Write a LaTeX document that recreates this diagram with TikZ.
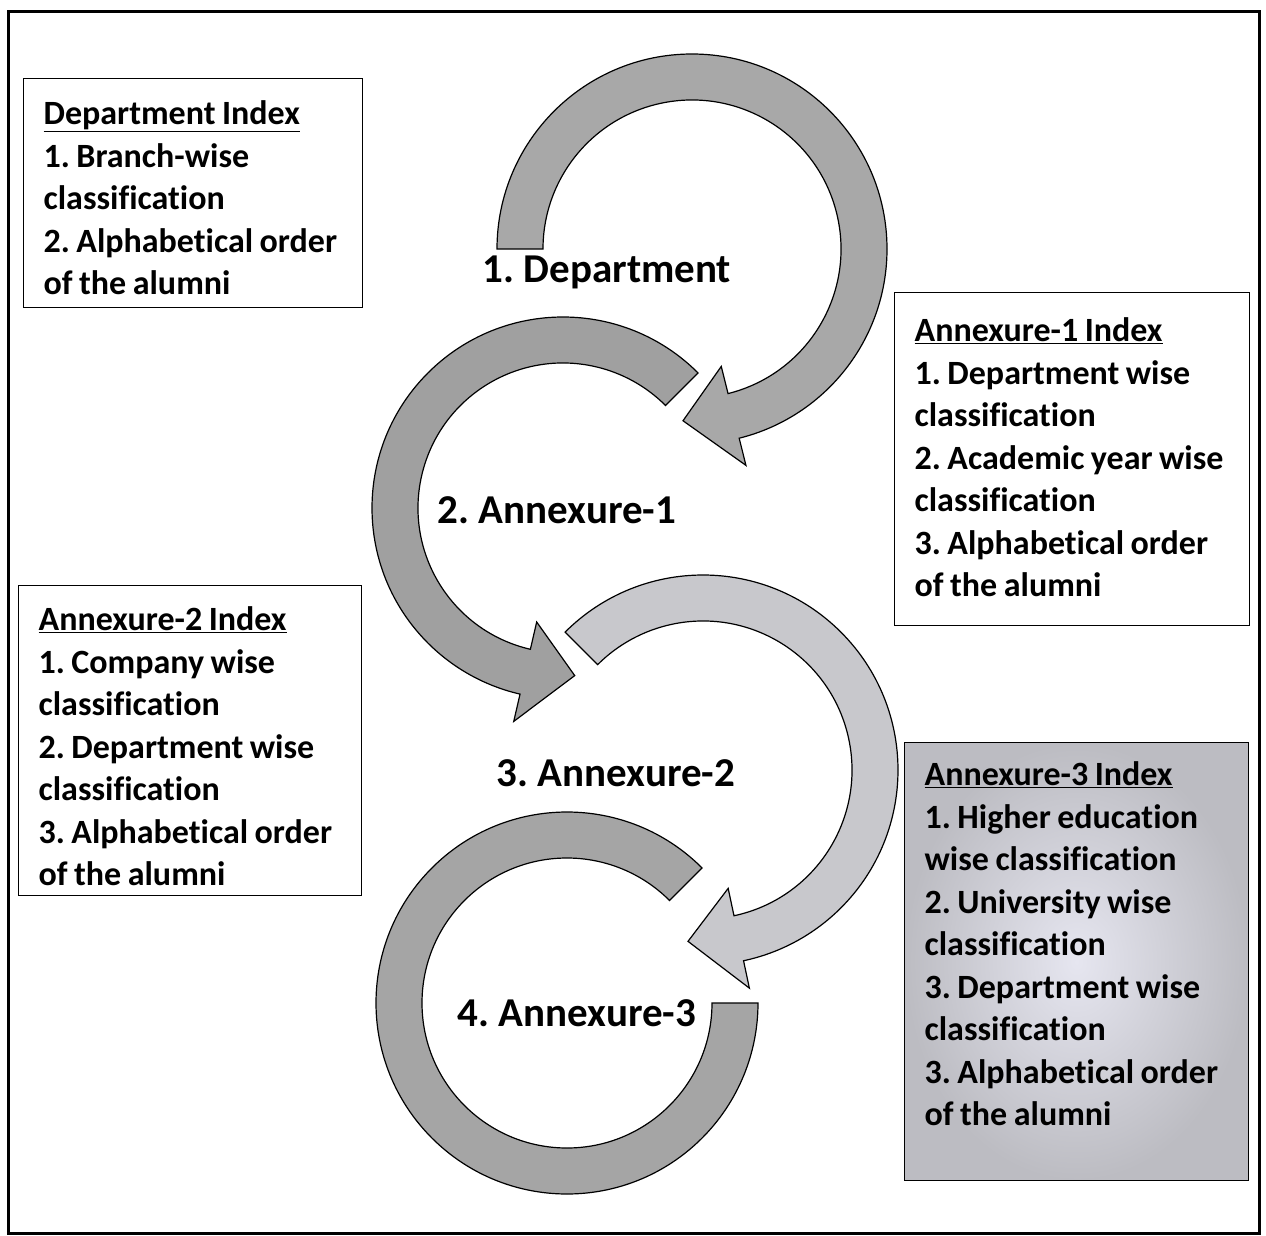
\documentclass[tikz,border=0pt]{standalone}
\usepackage{fontspec}
\setmainfont{Carlito}[Ligatures=NoCommon]
\usepackage{xcolor}
\definecolor{arrowA}{RGB}{168,168,168}
\definecolor{arrowB}{RGB}{160,160,160}
\definecolor{arrowC}{RGB}{200,200,204}
\definecolor{arrowD}{RGB}{165,165,165}
\definecolor{shadeout}{RGB}{188,188,194}
\definecolor{shadein}{RGB}{230,230,240}

\begin{document}
\begin{tikzpicture}[x=1pt, y=1pt,
        idx/.style={rectangle, draw=black, line width=1.3pt, fill=white, anchor=north west, inner xsep=20pt, inner ysep=0pt, align=left, font=\fontsize{34}{42.5}\selectfont\bfseries\frenchspacing, execute at begin node={\spaceskip=6.5pt\relax\hyphenpenalty=10000\exhyphenpenalty=10000}},
        lbl/.style={font=\fontsize{41}{48}\selectfont\bfseries\frenchspacing, inner sep=0pt}
    ]
        \useasboundingbox (0,0) rectangle (1266,-1236);
        \draw[line width=3pt] (8,-12) rectangle (1259,-1233);

        \foreach \cx/\cy/\r/\s/\e/\t/\h/\col in {692/-249/172/180/-76/-93/51/arrowA, 563/-508/168/45/257/274/51/arrowB, 703/-770/172/135/-78/-95/51/arrowC, 567/-1003/168/45/360/360/23/arrowD}
            \filldraw[fill=\col, draw=black, line width=1.2pt, shift={(\cx,\cy)}]
                ({\s}:{\r+23}) arc[start angle=\s, end angle=\e, radius={\r+23}] -- ({\e}:{\r+\h}) -- ({\t}:{\r}) -- ({\e}:{\r-\h}) -- ({\e}:{\r-23}) arc[start angle=\e, end angle=\s, radius={\r-23}] -- cycle;

        \node[lbl] (dept) at (607,-272) {1. Department};
        \node[lbl] (annexa) at (557,-510) {2. Annexure-1};
        \node[lbl] (annexb) at (616,-773) {3. Annexure-2};
        \node[lbl] (annexc) at (577,-1013) {4. Annexure-3};

        \node[idx, text width=299pt, text height=46pt, text depth=183pt] (deptidx) at (23,-78) {\underline{Department Index}\\1. Branch-wise\\classification\\2. Alphabetical order\\of the alumni};
        \node[idx, text width=315pt, text height=49pt, text depth=284pt] (annexaidx) at (894,-292) {\underline{Annexure-1 Index}\\1. Department wise\\classification\\2. Academic year wise\\classification\\3. Alphabetical order\\of the alumni};
        \node[idx, text width=303pt, text height=45pt, text depth=265pt] (annexbidx) at (18,-585) {\underline{Annexure-2 Index}\\1. Company wise\\classification\\2. Department wise\\classification\\3. Alphabetical order\\of the alumni};
        \node[idx, text width=304pt, text height=43pt, text depth=395pt, shade, inner color=shadein, outer color=shadeout] (annexcidx) at (904,-742) {\underline{Annexure-3 Index}\\1. Higher education\\wise classification\\2. University wise\\classification\\3. Department wise\\classification\\3. Alphabetical order\\of the alumni};
    \end{tikzpicture}
\end{document}
